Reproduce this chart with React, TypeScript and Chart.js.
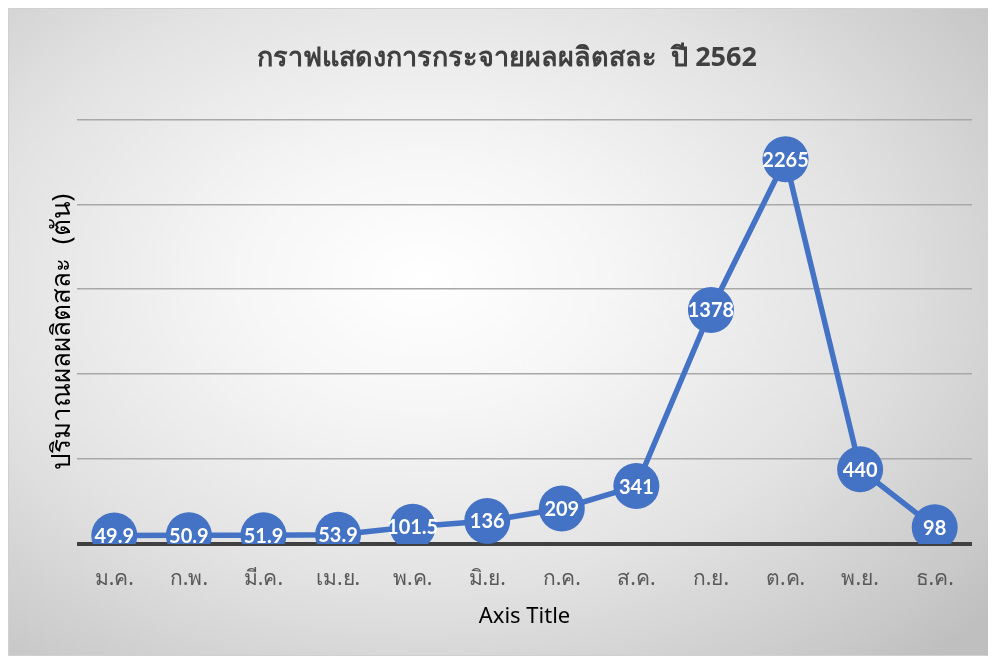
import React, { useEffect, useRef } from "react";
import { Chart, registerables } from "chart.js";

Chart.register(...registerables);

const months = ["ม.ค.", "ก.พ.", "มี.ค.", "เม.ย.", "พ.ค.", "มิ.ย.", "ก.ค.", "ส.ค.", "ก.ย.", "ต.ค.", "พ.ย.", "ธ.ค."];
const production = [49.9, 50.9, 51.9, 53.9, 101.5, 136, 209, 341, 1378, 2265, 440, 98];
const chartTitle = "กราฟแสดงการกระจายผลผลิตสละ  ปี 2562";
const yTitle = "ปริมาณผลผลิตสละ  (ตัน)";
const xTitle = "Axis Title";

const FONT = "'Noto Sans', 'Open Sans', sans-serif";
const BLUE = "#4472C4";

const labelPlugin = {
  id: "pointLabels",
  afterDatasetsDraw(chart: any) {
    const ctx = chart.ctx;
    const meta = chart.getDatasetMeta(0);
    const data = chart.data.datasets[0].data;
    ctx.save();
    ctx.fillStyle = "#ffffff";
    ctx.font = "bold 20px Lato, 'Open Sans', sans-serif";
    ctx.textAlign = "center";
    ctx.textBaseline = "middle";
    meta.data.forEach((el: any, i: number) => {
      ctx.fillText(String(data[i]), el.x, el.y + 1);
    });
    ctx.restore();
  },
};

export default function App() {
  const ref = useRef<HTMLCanvasElement | null>(null);
  useEffect(() => {
    document.documentElement.style.overflow = "hidden";
    document.body.style.overflow = "hidden";
    const chart = new Chart(ref.current as HTMLCanvasElement, {
      type: "line",
      data: {
        labels: months,
        datasets: [
          {
            data: production,
            borderColor: BLUE,
            backgroundColor: BLUE,
            borderWidth: 5.5,
            pointRadius: 23,
            pointHoverRadius: 23,
            pointBackgroundColor: BLUE,
            pointBorderColor: BLUE,
            pointBorderWidth: 0,
            tension: 0,
          },
        ],
      },
      options: {
        animation: false,
        responsive: false,
        maintainAspectRatio: false,
        layout: { padding: { left: 31, right: 21, top: 0, bottom: 0 } },
        plugins: {
          legend: { display: false },
          tooltip: { enabled: false },
          title: {
            display: true,
            text: chartTitle,
            color: "#404040",
            font: { family: FONT, size: 27, weight: "bold" },
            padding: { top: 33, bottom: 45 },
          },
        },
        scales: {
          x: {
            offset: true,
            grid: { display: false, drawTicks: false },
            border: { display: false },
            ticks: {
              color: "#595959",
              font: { family: FONT, size: 21 },
              padding: 22,
              maxRotation: 0,
              autoSkip: false,
            },
            title: {
              display: true,
              text: xTitle,
              color: "#000000",
              font: { family: FONT, size: 22 },
              padding: { top: 0, bottom: 25 },
            },
            afterFit: (scale: any) => {
              scale.height = 111;
            },
          },
          y: {
            min: 0,
            max: 2500,
            ticks: { display: false, stepSize: 500 },
            grid: {
              drawTicks: false,
              color: (c: any) => (c.tick && c.tick.value === 0 ? "#404040" : "#a8a8a8"),
              lineWidth: (c: any) => (c.tick && c.tick.value === 0 ? 4 : 1.5),
            },
            border: { display: false },
            title: {
              display: true,
              text: yTitle,
              color: "#000000",
              font: { family: FONT, size: 26 },
              padding: { top: 7, bottom: 0 },
            },
            afterFit: (scale: any) => {
              scale.width = 37;
            },
          },
        },
      },
      plugins: [labelPlugin],
    } as any);
    return () => chart.destroy();
  }, []);

  return (
    <div
      style={{
        width: 988,
        height: 648,
        boxSizing: "border-box",
        border: "1px solid #d0d0d0",
        background:
          "radial-gradient(ellipse 75% 80% at 42% 42%, #ffffff 0%, #f6f6f6 25%, #e2e2e2 60%, #c9c9c9 90%, #bfbfbf 100%)",
        position: "relative",
      }}
    >
      <canvas ref={ref} width={986} height={646} style={{ display: "block" }} />
    </div>
  );
}
